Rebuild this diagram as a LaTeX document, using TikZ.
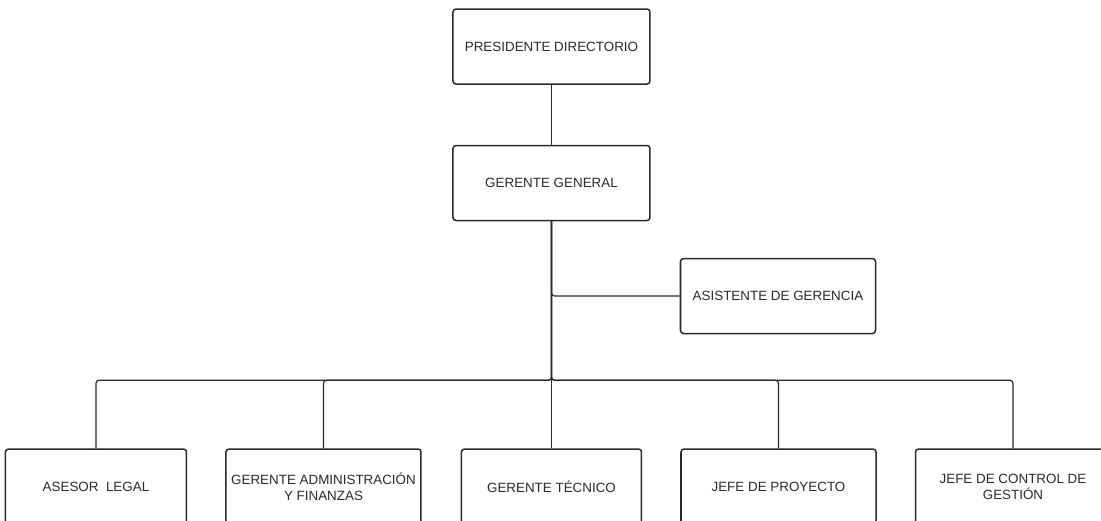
\documentclass[tikz,border=0pt]{standalone}
\usepackage{fontspec}
\setmainfont{Liberation Sans}
\usetikzlibrary{positioning}
\definecolor{linegray}{HTML}{2A2A2A}
\tikzstyle{cargo} = [
	rectangle,
	rounded corners=3pt,
	minimum width=195pt,
	minimum height=75pt,
	inner sep=0pt,
	text centered,
	align=center,
	draw=linegray,
	line width=1.5pt,
	text=linegray,
	font=\fontsize{13.4}{16}\selectfont,
]
\tikzstyle{conector} = [draw=linegray, line width=1.2pt, rounded corners=3pt]

\begin{document}
\begin{tikzpicture}
		\useasboundingbox (-551.5pt,46.5pt) rectangle (549.5pt,-473.5pt);
		\node (presidente) [cargo, minimum width=197pt] {PRESIDENTE DIRECTORIO};
		\node (gerente) [cargo, minimum width=197pt, below=60pt of presidente] {GERENTE GENERAL};
		\node (asistente) [cargo, right=29pt of gerente, yshift=-113pt] {ASISTENTE DE GERENCIA};
		\node (tecnico) [cargo, minimum width=180pt, below=227pt of gerente] {GERENTE TÉCNICO};
		\node (admin) [cargo, left=39pt of tecnico] {GERENTE ADMINISTRACIÓN\\Y FINANZAS};
		\node (legal) [cargo, minimum width=181pt, left=38pt of admin] {ASESOR\ \ LEGAL};
		\node (proyecto) [cargo, right=38pt of tecnico] {JEFE DE PROYECTO};
		\node (control) [cargo, right=38pt of proyecto] {JEFE DE CONTROL DE\\GESTIÓN};
		\coordinate (bus) at ([yshift=-159pt]gerente.south);

		\draw [conector] (presidente) -- (gerente);
		\draw [conector] (gerente.south) |- (asistente.west);
		\draw [conector] (gerente.south) -- (bus) -| (legal.north);
		\draw [conector] (gerente.south) -- (bus) -| (admin.north);
		\draw [conector] (gerente.south) -- (tecnico.north);
		\draw [conector] (gerente.south) -- (bus) -| (proyecto.north);
		\draw [conector] (gerente.south) -- (bus) -| (control.north);
	\end{tikzpicture}
\end{document}
